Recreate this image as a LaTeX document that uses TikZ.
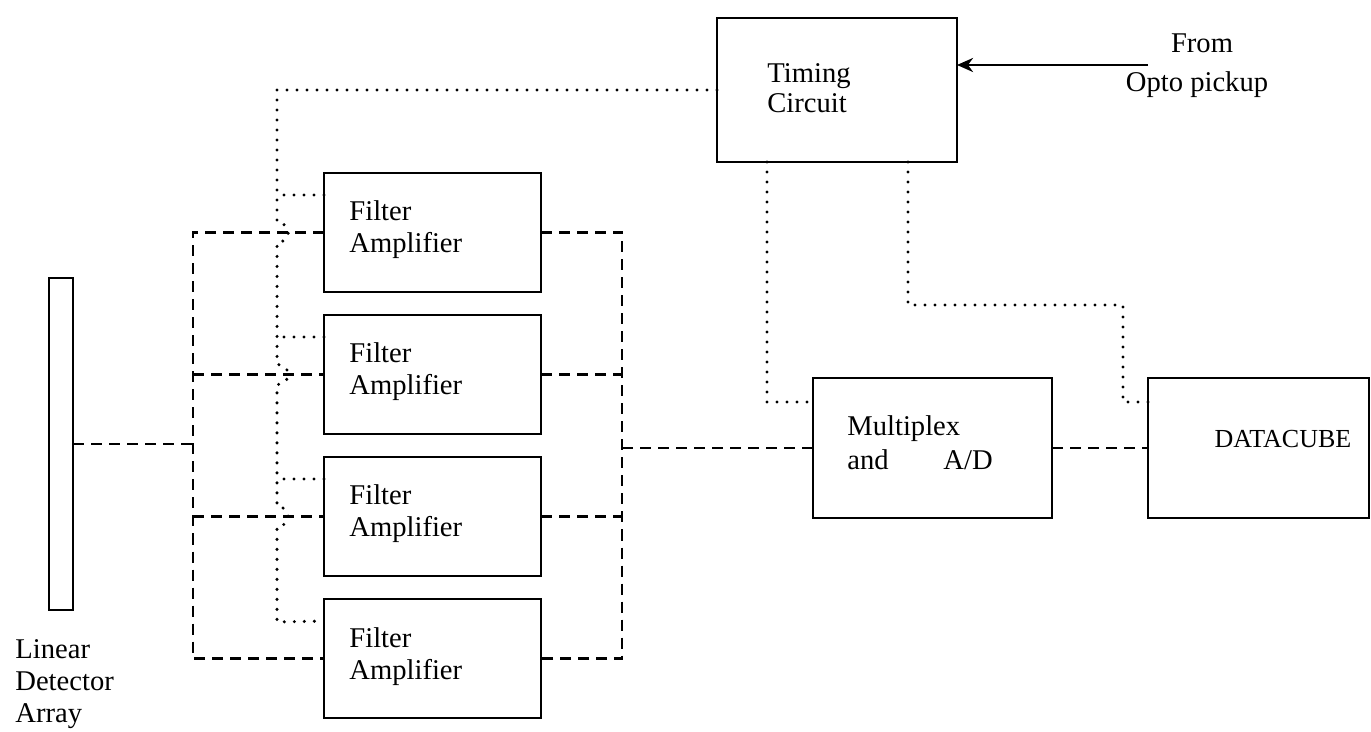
\documentclass[tikz,border=0pt]{standalone}
\usepackage{fontspec}
\setmainfont{Liberation Serif}
\usetikzlibrary{calc,arrows.meta}
\begin{document}
\begin{tikzpicture}[x=0.5pt,y=-0.5pt,
  box/.style={draw, line width=1.3pt, inner sep=0pt, outer sep=0pt},
  lbl/.style={anchor=base west, inner sep=0pt, font=\fontsize{14.3}{16}\selectfont},
  dsh/.style={line width=1.3pt, dash pattern=on 5.5pt off 3.5pt},
  dot/.style={line width=1.7pt, line cap=round, dash pattern=on 0pt off 5pt},
  ]
\useasboundingbox (0,0) rectangle (1371,732);

% blocks
\node[box, minimum width=12pt, minimum height=166pt] (arr) at (61,444) {};
\foreach \i/\y in {1/232.5,2/374.5,3/516.5,4/658.5} {
  \node[box, minimum width=108.5pt, minimum height=59.5pt] (f\i) at (432.5,\y) {};
  \node[lbl] (ft\i) at ($(f\i.north west)+(25,48)$) {Filter};
  \node[lbl] (at\i) at ($(f\i.north west)+(25,80)$) {Amplifier};
}
\node[box, minimum width=120pt, minimum height=72pt] (tim) at (837,90) {};
\node[box, minimum width=119.5pt, minimum height=70pt] (mux) at (932.5,448) {};
\node[box, minimum width=110.5pt, minimum height=70pt] (dc) at (1258.5,448) {};

% texts
\node[lbl] (t1) at (767,83) {Timing};
\node[lbl] (t2) at (767,113) {Circuit};
\node[lbl] (m1) at (847,436) {Multiplex};
\node[lbl] (m2) at (847,470) {and};
\node[lbl] (m3) at (943,470) {A/D};
\node[lbl, anchor=base, font=\fontsize{13}{15}\selectfont] (dct) at (1283,448) {DATACUBE};
\node[lbl, anchor=base] (fr) at (1202,53) {From};
\node[lbl, anchor=base] (op) at (1197,92) {Opto pickup};
\node[lbl] (l1) at (15,658) {Linear};
\node[lbl] (l2) at (15,690) {Detector};
\node[lbl] (l3) at (15,722) {Array};

% dashed signal lines
\coordinate (lb) at (193,444);
\coordinate (rb) at (622,448);
\draw[dsh] (arr.east) -- (lb);
\draw[dsh] (f1.west) -- (f1.west -| lb) -- (f4.west -| lb) -- (f4.west);
\draw[dsh] (f2.west -| lb) -- (f2.west);
\draw[dsh] (f3.west -| lb) -- (f3.west);
\draw[dsh] (f1.east) -- (f1.east -| rb) -- (f4.east -| rb) -- (f4.east);
\draw[dsh] (f2.east) -- (f2.east -| rb);
\draw[dsh] (f3.east) -- (f3.east -| rb);
\draw[dsh] (rb) -- (mux.west);
\draw[dsh] (mux.east) -- (dc.west);

% dotted timing lines
\coordinate (tl) at (277,90);
\draw[dot] (tim.west) -- (tl) -- (277,222.5)
  .. controls (292,222.5) and (292,242.5) .. (277,242.5) -- (277,364.5)
  .. controls (292,364.5) and (292,384.5) .. (277,384.5) -- (277,506.5)
  .. controls (292,506.5) and (292,526.5) .. (277,526.5) -- (277,622)
  -- ($(f4.north west)+(0,22)$);
\foreach \i in {1,2,3} {
  \draw[dot] ($(f\i.north west)+(0,22)$) -- ++(-47,0);
}
\draw[dot] ($(tim.south west)+(50,0)$) |- ($(mux.north west)+(0,24)$);
\coordinate (d1) at (908,305);
\coordinate (d2) at (1123,305);
\draw[dot] ($(tim.south west)+(191,0)$) -- (d1) -- (d2) |- ($(dc.north west)+(0,24)$);

% arrow from opto pickup
\coordinate (src) at (1148,65);
\draw[line width=1.3pt, -{Stealth[length=8pt,width=7pt,inset=2.5pt]}] (src) -- (tim.east |- src);
\end{tikzpicture}
\end{document}
